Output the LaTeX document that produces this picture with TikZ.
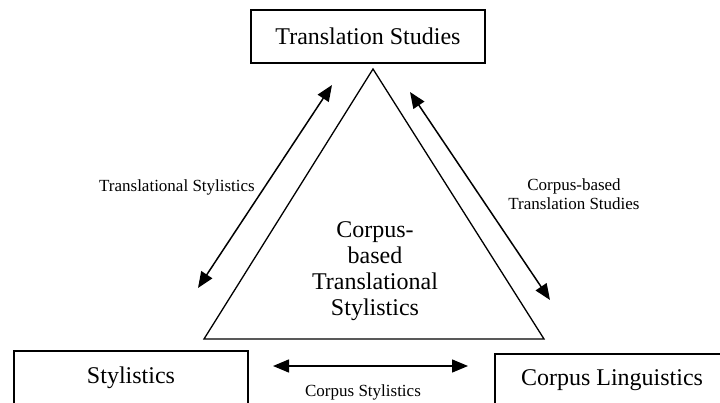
\documentclass[tikz,border=0pt]{standalone}
\usepackage{fontspec}
\setmainfont{Liberation Serif}
\usetikzlibrary{arrows.meta}

\begin{document}
\begin{tikzpicture}[x=1pt,y=-1pt]
	\tikzset{field/.style={draw,line width=1.3pt,minimum width=234pt,minimum height=53pt,inner sep=0pt,font=\fontsize{24}{26}\selectfont}}
	\tikzset{link/.style={line width=1.5pt,{Triangle[length=16pt,width=13pt]}-{Triangle[length=16pt,width=13pt]}}}
	\tikzset{linklabel/.style={align=center,inner sep=0pt,font=\fontsize{17}{19}\selectfont}}

	\clip (0,0) rectangle (720,403);

	% the three fields
	\node[field] (ts) at (368,36.5) {Translation Studies};
	\node[field] (sty) at (131,377.5) {Stylistics};
	\node[field] (cl) at (612,380.5) {Corpus Linguistics};

	% the triangle in the middle
	\coordinate (apex) at (373,69);
	\coordinate (bl) at (204,339);
	\coordinate (br) at (544,339);
	\draw[line width=1.3pt] (apex) -- (br) -- (bl) -- cycle;
	\node[align=center,inner sep=0pt,font=\fontsize{24}{26}\selectfont] (cbts) at (375,271)
		{Corpus-\\based\\Translational\\Stylistics};

	% arrows between the fields
	\coordinate (a1) at (332,85);
	\coordinate (a2) at (198,288);
	\coordinate (b1) at (410,92);
	\coordinate (b2) at (550,300);
	\coordinate (c1) at (273,366);
	\coordinate (c2) at (468,366);
	\draw[link] (a1) -- (a2);
	\draw[link] (b1) -- (b2);
	\draw[link] (c1) -- (c2);

	\node[linklabel] (tsl) at (177,187) {Translational Stylistics};
	\node[linklabel] (cbt) at (574,194) {Corpus-based\\Translation Studies};
	\node[linklabel] (cs) at (363,392) {Corpus Stylistics};

\end{tikzpicture}
\end{document}
